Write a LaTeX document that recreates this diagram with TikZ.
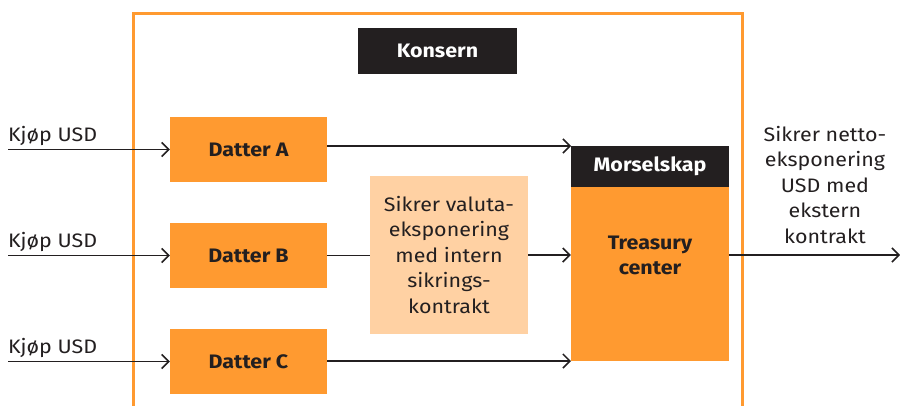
\documentclass[tikz,border=0pt]{standalone}
\usepackage{fontspec}
\setmainfont[FakeStretch=1.1]{Fira Sans}
\usetikzlibrary{arrows.meta}
\definecolor{orng}{HTML}{FF9A30}
\definecolor{lorng}{HTML}{FFD1A3}
\definecolor{dark}{HTML}{231F20}
\begin{document}
\begin{tikzpicture}[x=1pt,y=-1pt,
  fs/.style={font=\fontsize{19.5}{25.5}\selectfont},
  orbox/.style={fill=orng,inner sep=0pt,text=dark,font=\fontsize{19.5}{25}\selectfont\bfseries},
  blbox/.style={fill=dark,inner sep=0pt,text=white,font=\fontsize{19.5}{25}\selectfont\bfseries},
  conn/.style={draw=dark,line width=1.5pt},
  arr/.style={conn,-{Straight Barb[length=7pt,width=14pt,line width=1.5pt]}}]
\useasboundingbox (0,0) rectangle (900,405);
\fill[white] (0,0) rectangle (900,405);
% frame
\draw[orng,line width=3pt] (133,410) -- (133,13) -- (742,13) -- (742,410);
% nodes
\node[blbox,minimum width=159pt,minimum height=46pt] (konsern) at (437.5,51) {Konsern};
\node[orbox,minimum width=157pt,minimum height=65pt] (da) at (248.5,149.5) {Datter A};
\node[orbox,minimum width=157pt,minimum height=65pt] (db) at (248.5,255.5) {Datter B};
\node[orbox,minimum width=157pt,minimum height=65pt] (dc) at (248.5,361.5) {Datter C};
\node[fill=lorng,minimum width=158pt,minimum height=158pt,inner sep=0pt] (mid) at (449,255) {};
\node[fs,align=center,text=dark] (midt) at (449,255) {Sikrer valuta-\\eksponering\\med intern\\sikrings-\\kontrakt};
\node[blbox,minimum width=158pt,minimum height=41pt] (mors) at (650,166.5) {Morselskap};
\node[fill=orng,minimum width=158pt,minimum height=174pt,inner sep=0pt] (tre) at (650,274) {};
\node[orbox,align=center,fill=none] (tret) at (650,255) {Treasury\\center};
\node[fs,align=center,text=dark] (right) at (825,185) {Sikrer netto-\\eksponering\\USD med\\ekstern\\kontrakt};
% left inputs
\coordinate (ia) at (8,149.5);
\coordinate (ib) at (8,255.5);
\coordinate (ic) at (8,361.5);
\node[fs,text=dark,anchor=base west,inner sep=0pt] (la) at (8,141) {Kjøp USD};
\node[fs,text=dark,anchor=base west,inner sep=0pt] (lb) at (8,247) {Kjøp USD};
\node[fs,text=dark,anchor=base west,inner sep=0pt] (lc) at (8,353) {Kjøp USD};
\draw[arr] (ia) -- (da.west);
\draw[arr] (ib) -- (db.west);
\draw[arr] (ic) -- (dc.west);
% internal
\coordinate (ta) at (571,146);
\coordinate (tc) at (571,361);
\draw[arr] (da.east |- ta) -- (ta);
\draw[conn] (db.east) -- (mid.west |- db.east);
\draw[arr] (mid.east) -- (tre.west |- mid.east);
\draw[arr] (dc.east |- tc) -- (tc);
\coordinate (out) at (900,255);
\draw[arr] (tre.east |- out) -- (out);
\end{tikzpicture}
\end{document}
